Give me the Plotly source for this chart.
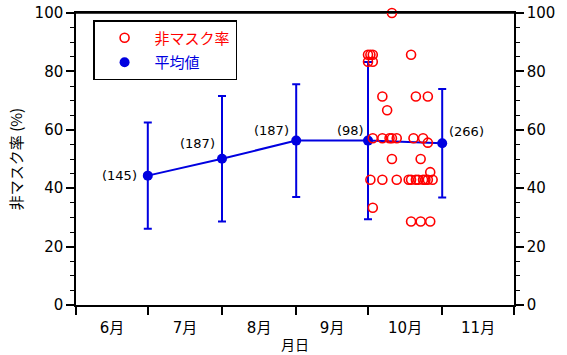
import plotly.graph_objects as go

# ---- data ----
month_points = ["2020-07-01", "2020-08-01", "2020-09-01", "2020-10-01", "2020-11-01"]
mean_values = [44.3, 50.1, 56.3, 56.3, 55.4]
sd_values = [18.2, 21.5, 19.3, 26.9, 18.6]
count_labels = ["(145)", "(187)", "(187)", "(98)", "(266)"]

oct_days = [1, 1, 2, 3, 3,
            11,
            19,
            7, 21, 26,
            9,
            3, 7, 10, 11, 13, 20, 24,
            26,
            11, 23,
            27,
            2, 7, 13, 18, 19, 21, 22, 24, 25, 26, 28,
            3,
            19, 23, 27]
daily_rates = [85.7, 83.3, 85.7, 85.7, 83.3,
               100.0,
               85.7,
               71.4, 71.4, 71.4,
               66.7,
               57.1, 57.1, 57.1, 57.1, 57.1, 57.1, 57.1,
               55.6,
               50.0, 50.0,
               45.5,
               42.9, 42.9, 42.9, 42.9, 42.9, 42.9, 42.9, 42.9, 42.9, 42.9, 42.9,
               33.3,
               28.6, 28.6, 28.6]

daily_dates = ["2020-10-%02d" % d for d in oct_days]

CJK = "Noto Sans CJK JP, sans-serif"
NUM = "DejaVu Sans, Noto Sans CJK JP, sans-serif"
BLUE = "#0000e0"
RED = "#ff0000"

fig = go.Figure()

# top frame line (drawn first so markers sit on it)
fig.add_trace(go.Scatter(
    x=["2020-06-01", "2020-12-01"], y=[100, 100], mode="lines",
    line=dict(color="black", width=1.5), cliponaxis=False,
    showlegend=False, hoverinfo="skip",
))

# mean line with error bars (no legend entry)
fig.add_trace(go.Scatter(
    x=month_points, y=mean_values, mode="lines",
    line=dict(color=BLUE, width=2),
    error_y=dict(type="data", array=sd_values, visible=True,
                 color=BLUE, thickness=2, width=4),
    showlegend=False, hoverinfo="skip",
))

# mean markers
fig.add_trace(go.Scatter(
    x=month_points, y=mean_values, mode="markers",
    name="<span style='color:%s'>平均値</span>" % BLUE,
    marker=dict(color=BLUE, size=10),
    legendrank=2, legendgroup="b",
))

# daily non-mask rates
fig.add_trace(go.Scatter(
    x=daily_dates, y=daily_rates, mode="markers",
    name="<span style='color:%s'>非マスク率</span>" % RED,
    marker=dict(color=RED, size=9, symbol="circle-open",
                line=dict(color=RED, width=1.6)),
    legendrank=1, legendgroup="a", cliponaxis=False,
))

# invisible trace to anchor the right axis
fig.add_trace(go.Scatter(x=[month_points[0]], y=[0], yaxis="y2", mode="markers",
                         marker=dict(opacity=0), showlegend=False, hoverinfo="skip"))

# count labels
offsets = [("right", -9, 0), ("right", -5, 15), ("right", -5, 10),
           ("right", -2, 10), ("left", 5, 12)]
for xv, yv, lab, (anc, dx, dy) in zip(month_points, mean_values, count_labels, offsets):
    fig.add_annotation(x=xv, y=yv, text=lab, showarrow=False,
                       xanchor=anc, yanchor="middle", xshift=dx, yshift=dy,
                       font=dict(family=NUM, size=13, color="black"))

axis_common = dict(showline=True, linecolor="black", linewidth=1.5,
                   ticks="outside", tickcolor="black", tickwidth=1.5,
                   showgrid=False, zeroline=False, automargin=False,
                   ticklabeloverflow="allow",
                   tickfont=dict(family=NUM, size=15, color="black"))

minor = dict(dtick=5, ticks="outside", ticklen=4, tickcolor="black", tickwidth=1.2)

fig.update_layout(
    width=567, height=355,
    margin=dict(l=76, r=53, t=13, b=50),
    plot_bgcolor="white", paper_bgcolor="white",
    font=dict(family=CJK, size=15, color="black"),
    xaxis=dict(type="date", range=["2020-06-01", "2020-12-01"],
               dtick="M1", tick0="2020-06-01", tickformat="%-m月",
               ticklabelmode="period", ticklen=8, mirror=True,
               title=dict(text="月日", font=dict(family=CJK, size=14), standoff=4),
               **axis_common),
    yaxis=dict(range=[0, 100], dtick=20, ticklen=8, minor=minor,
               title=dict(text="非マスク率 (%)", font=dict(family=CJK, size=15), standoff=8),
               **axis_common),
    yaxis2=dict(range=[0, 100], dtick=20, ticklen=8, overlaying="y", side="right",
                minor=minor, **axis_common),
    legend=dict(x=0.039, y=0.976, xanchor="left", yanchor="top",
                bordercolor="black", borderwidth=1.5, bgcolor="white",
                font=dict(family=CJK, size=15),
                traceorder="grouped", tracegroupgap=2, itemwidth=50),
    showlegend=True,
)

fig.write_html("out.html", config={"displayModeBar": False},
               post_script="document.body.style.margin='0';document.body.style.overflow='hidden';")
